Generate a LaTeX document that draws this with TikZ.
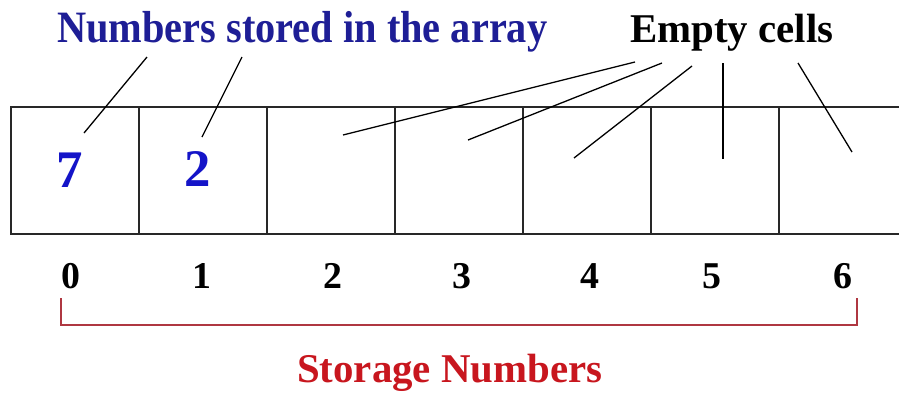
\documentclass[tikz,border=0pt]{standalone}
\usepackage{fontspec}
\setmainfont{Liberation Serif}
\definecolor{titleblue}{RGB}{30,30,150}
\definecolor{digitblue}{RGB}{20,20,200}
\definecolor{labelred}{RGB}{200,22,30}
\definecolor{bracketred}{RGB}{175,55,65}
\definecolor{boxgray}{RGB}{40,40,40}
\tikzset{
  cell/.style={draw=boxgray, line width=1.8bp, rectangle, minimum width=128bp, minimum height=127bp, inner sep=0pt},
  leader/.style={draw=black, line width=1.3bp},
  bracket/.style={draw=bracketred, line width=1.4bp},
  title/.style={font=\fontsize{41}{45}\selectfont\bfseries, inner sep=0pt},
  bigtitle/.style={font=\fontsize{45}{49}\selectfont\bfseries, inner sep=0pt},
  cellnum/.style={font=\fontsize{53}{56}\selectfont\bfseries, text=digitblue, inner sep=0pt, anchor=base},
  idx/.style={font=\fontsize{38}{40}\selectfont\bfseries, inner sep=0pt, anchor=base}
}
\begin{document}
\begin{tikzpicture}[x=1bp,y=-1bp]
\clip (0,0) rectangle (899,392);
\fill[white] (0,0) rectangle (899,392);
% cells
\foreach \i in {0,...,6} {
  \node[cell] (c\i) at ({11+64+128*\i},170.5) {};
}
% titles
\node[bigtitle, text=titleblue, anchor=base west] (ttl) at (57,42) {\scalebox{0.9}[1]{Numbers stored in the array}};
\node[title, text=black, anchor=base west] (empty) at (630,42) {Empty cells};
\node[title, text=labelred, anchor=base west] (storage) at (297,382) {Storage Numbers};
% cell numbers
\node[cellnum] (n7) at (70,187) {7};
\node[cellnum] (n2) at (198,186) {2};
% indices
\foreach \i/\xx in {0/71,1/202,2/333,3/462,4/590,5/712,6/843} {
  \node[idx] (i\i) at (\xx,288) {\i};
}
% leader endpoints
\coordinate (a1) at (147,57); \coordinate (b1) at (84,133);
\coordinate (a2) at (242,57); \coordinate (b2) at (202,137);
\coordinate (e1) at (635,62); \coordinate (f1) at (343,135);
\coordinate (e2) at (662,63); \coordinate (f2) at (468,140);
\coordinate (e3) at (692,66); \coordinate (f3) at (574,158);
\coordinate (e4) at (723,63); \coordinate (f4) at (723,159);
\coordinate (e5) at (798,63); \coordinate (f5) at (852,152);
\draw[leader] (a1) -- (b1);
\draw[leader] (a2) -- (b2);
\foreach \k in {1,...,5} { \draw[leader] (e\k) -- (f\k); }
% bracket
\coordinate (bl) at (61,298); \coordinate (br) at (857,298);
\draw[bracket] (bl) -- (61,325) -- (857,325) -- (br);
\end{tikzpicture}
\end{document}
